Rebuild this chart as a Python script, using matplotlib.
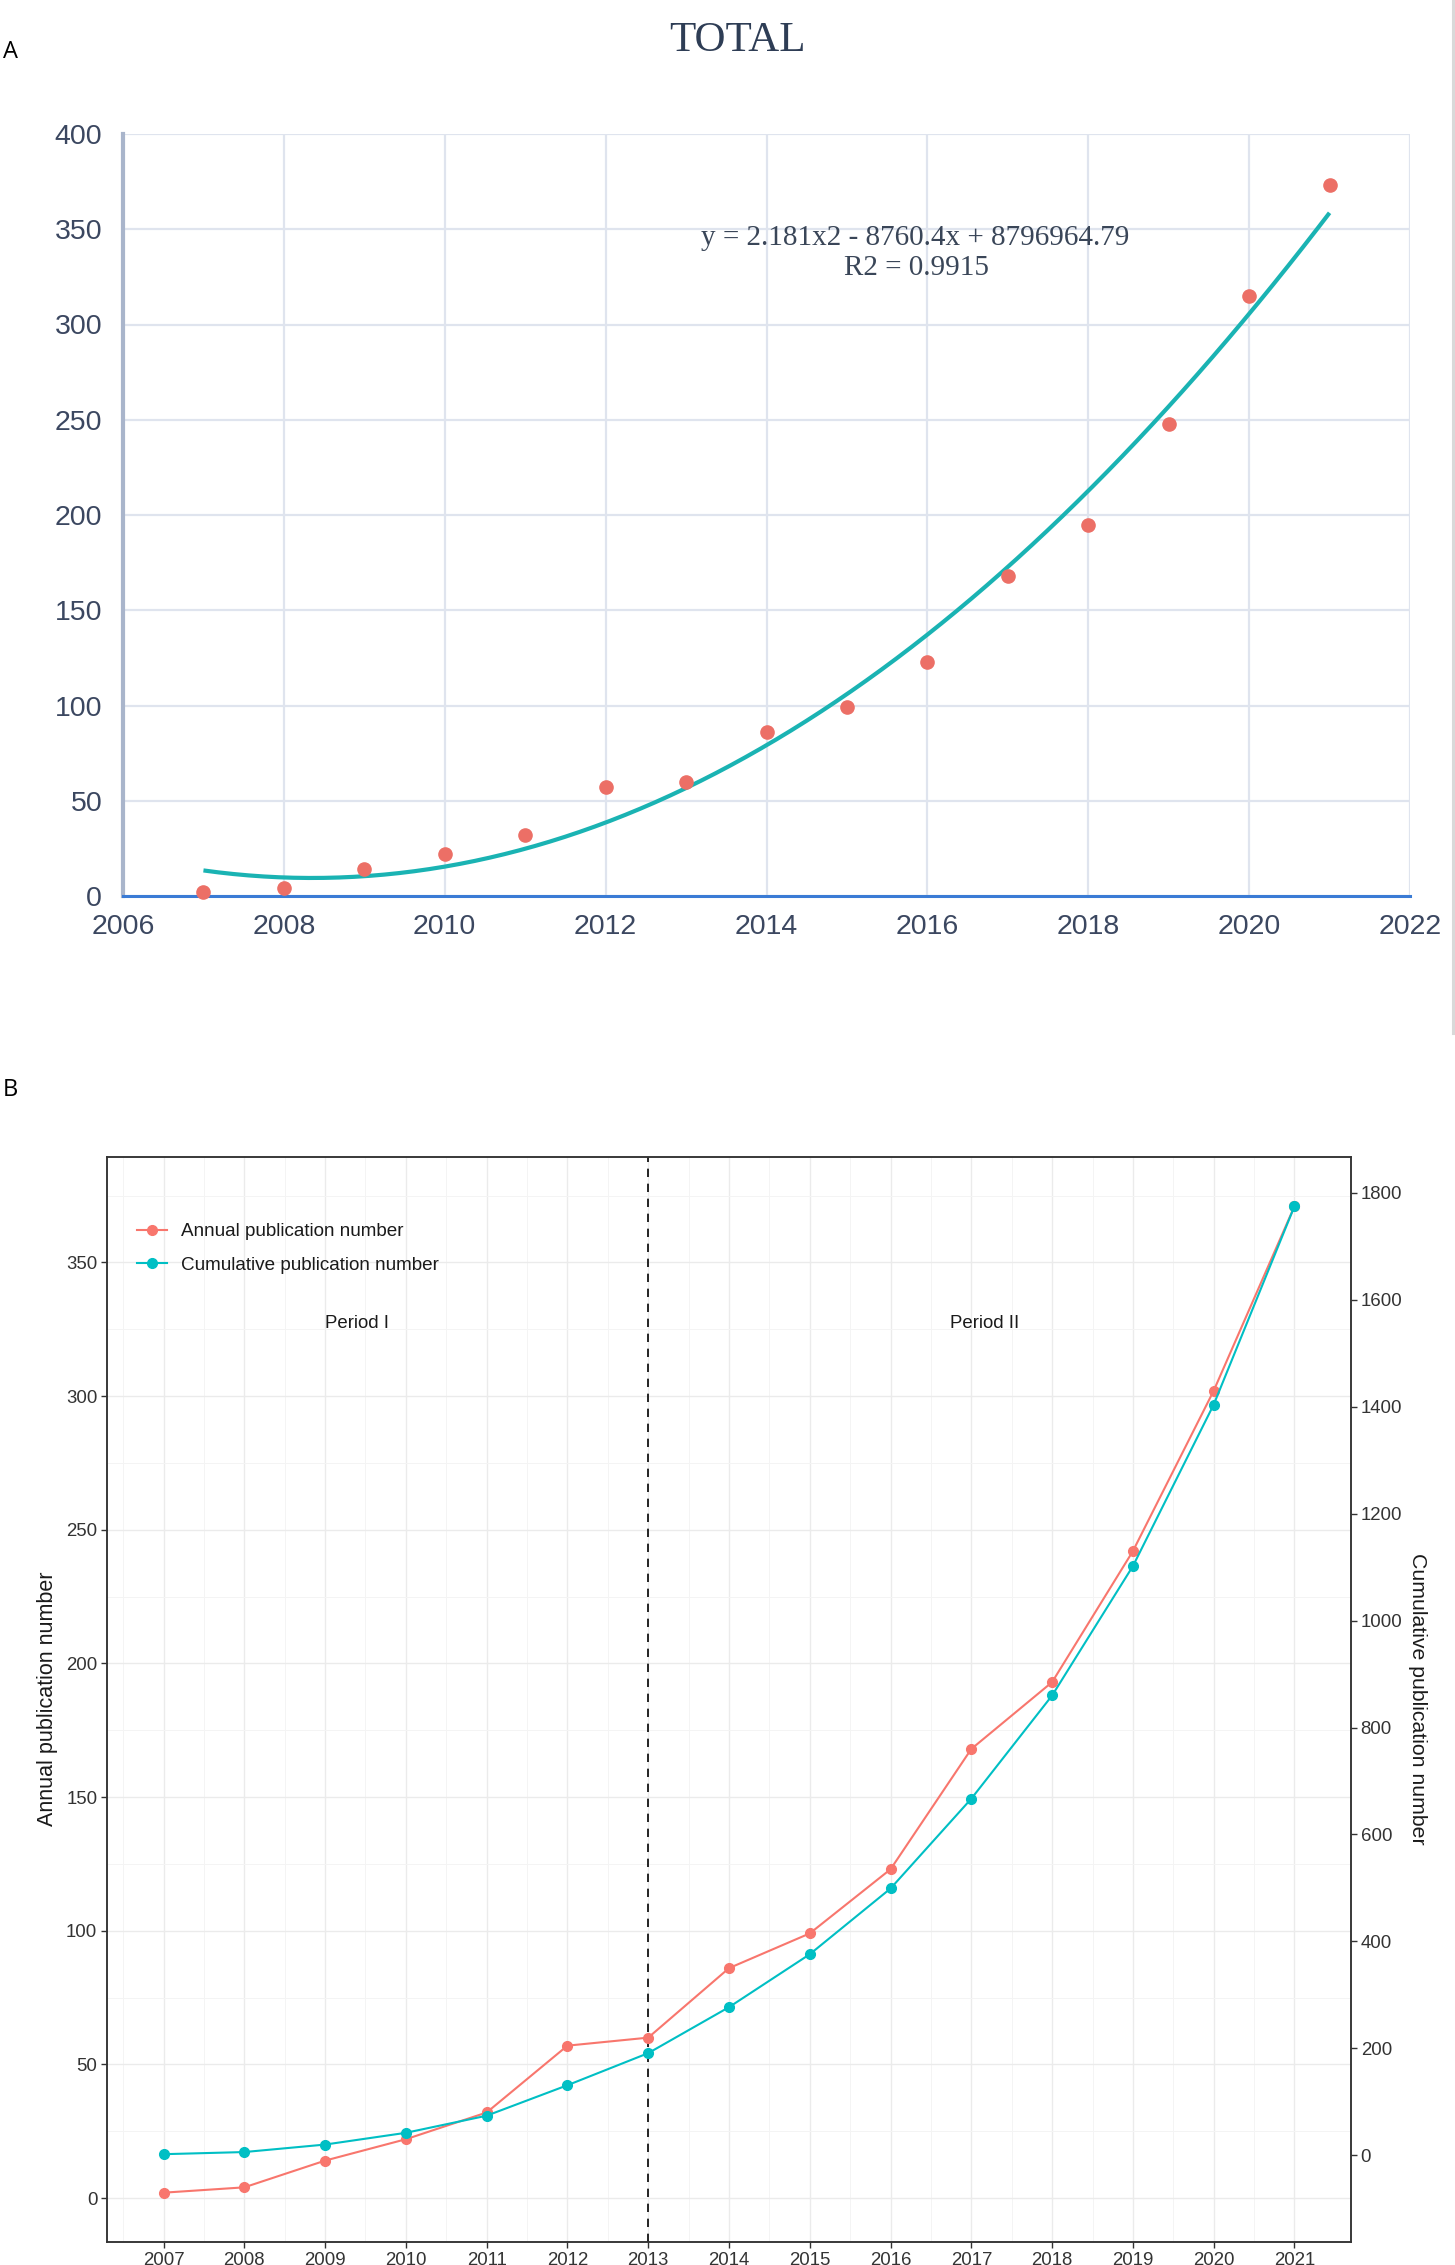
import numpy as np
import matplotlib
matplotlib.use("Agg")
import matplotlib.pyplot as plt
from matplotlib.lines import Line2D

# ---------------- data ----------------
years = [2007, 2008, 2009, 2010, 2011, 2012, 2013, 2014, 2015, 2016, 2017, 2018, 2019, 2020, 2021]
total_a = [2, 4, 14, 22, 32, 57, 60, 86, 99, 123, 168, 195, 248, 315, 373]
annual_b = [2, 4, 14, 22, 32, 57, 60, 86, 99, 123, 168, 193, 242, 302, 371]
cumulative_b = [2, 6, 20, 42, 74, 131, 191, 277, 376, 499, 667, 860, 1102, 1404, 1775]
a_xticks = [2006, 2008, 2010, 2012, 2014, 2016, 2018, 2020, 2022]
a_yticks = [0, 50, 100, 150, 200, 250, 300, 350, 400]
b_left_ticks = [0, 50, 100, 150, 200, 250, 300, 350]
b_right_ticks = [0, 200, 400, 600, 800, 1000, 1200, 1400, 1600, 1800]
equation_text = "y = 2.181x2 - 8760.4x + 8796964.79"
r2_text = "R2 = 0.9915"
period_labels = ["Period I", "Period II"]
period_x = [2009.39, 2017.17]
split_year = 2013
sec_offset, sec_scale = 16, 5   # cumulative = (annual - offset) * scale

W, H = 1455, 2265
fig = plt.figure(figsize=(W / 100, H / 100), dpi=100)
fig.patch.set_facecolor("white")

def fx(px):
    return px / W

def fy(py):
    return 1 - py / H

SANS = ["Liberation Sans", "DejaVu Sans"]
SERIF = ["Liberation Serif", "DejaVu Serif"]

# ---------------- Panel A ----------------
axA = fig.add_axes([fx(123), fy(896), fx(1410) - fx(123), fy(134) - fy(896)])
axA.set_xlim(2006, 2022)
axA.set_ylim(0, 400)
axA.set_xticks(a_xticks)
axA.set_yticks(a_yticks)
axA.grid(True, color="#dfe4ee", lw=1.6)
axA.set_axisbelow(True)
for s in ["top", "right"]:
    axA.spines[s].set_visible(False)
axA.spines["left"].set_color("#a9b5cb")
axA.spines["left"].set_linewidth(3.0)
axA.spines["bottom"].set_color("#3a7bd5")
axA.spines["bottom"].set_linewidth(2.2)
axA.spines["bottom"].set_zorder(3)
axA.tick_params(length=0, labelsize=20.5, labelcolor="#3b4760")
axA.tick_params(axis="y", pad=15)
axA.tick_params(axis="x", pad=13)
for lab in axA.get_xticklabels() + axA.get_yticklabels():
    lab.set_family(SANS)

yrs = np.array(years, dtype=float)
coef = np.polyfit(yrs - 2014, np.array(total_a, dtype=float), 2)
xs = np.linspace(yrs.min(), yrs.max(), 300)
axA.plot(xs, np.polyval(coef, xs - 2014), color="#1ab3b3", lw=3.0, zorder=2,
         solid_capstyle="butt")
axA.plot(years, total_a, "o", color="#ec6f66", ms=9.5, zorder=4, clip_on=False)

axA.text(2015.85, 345.4, equation_text, ha="center", va="center", fontsize=21,
         family=SERIF, color="#3a4658")
axA.text(2015.87, 329.5, r2_text, ha="center", va="center", fontsize=21,
         family=SERIF, color="#3a4658")

fig.text(fx(737), fy(41), "TOTAL", ha="center", va="center", fontsize=31,
         family=SERIF, color="#2e3d55")
fig.text(fx(3), fy(52), "A", ha="left", va="center", fontsize=17,
         family=["Open Sans", "DejaVu Sans"], color="black")
fig.add_artist(Line2D([fx(1453), fx(1453)], [fy(0), fy(1033)], color="#d9d9d9",
                      lw=2.2, transform=fig.transFigure))

# ---------------- Panel B ----------------
RED = "#F8766D"
CYAN = "#00BFC4"
axB = fig.add_axes([fx(107), fy(2242), fx(1351) - fx(107), fy(1157) - fy(2242)])
lo, hi = -16.45, 389.45
axB.set_xlim(2006.3, 2021.7)
axB.set_ylim(lo, hi)
axB.set_xticks(years)
axB.set_yticks(b_left_ticks)
axB.set_xticks([y + 0.5 for y in [2006] + years[:-1]], minor=True)
axB.set_yticks([25, 75, 125, 175, 225, 275, 325, 375], minor=True)
axB.grid(True, which="major", color="#EBEBEB", lw=1.0)
axB.grid(True, which="minor", color="#F4F4F4", lw=0.7)
axB.set_axisbelow(True)
for s in axB.spines.values():
    s.set_color("#333333")
    s.set_linewidth(1.1)
axB.tick_params(which="major", length=4, width=1.0, color="#333333",
                labelsize=13.4, labelcolor="#333333", pad=3)
axB.tick_params(which="minor", length=0)
for lab in axB.get_xticklabels() + axB.get_yticklabels():
    lab.set_family(SANS)

axB.axvline(split_year, color="black", lw=1.2, ls=(0, (5, 4)), zorder=1)

axB2 = axB.twinx()
axB2.set_ylim((lo - sec_offset) * sec_scale, (hi - sec_offset) * sec_scale)
axB2.set_yticks(b_right_ticks)
for s in axB2.spines.values():
    s.set_color("#333333")
    s.set_linewidth(1.1)
axB2.tick_params(length=4, width=1.0, color="#333333", labelsize=13.4,
                 labelcolor="#333333", pad=3)
for lab in axB2.get_yticklabels():
    lab.set_family(SANS)

l1, = axB.plot(years, annual_b, "-o", color=RED, lw=1.5, ms=7, zorder=3,
               label="Annual publication number")
l2, = axB2.plot(years, cumulative_b, "-o", color=CYAN, lw=1.5, ms=7, zorder=3,
                label="Cumulative publication number")

for xp, txt in zip(period_x, period_labels):
    axB.text(xp, 327, txt, ha="center", va="center", fontsize=13.4,
             family=SANS, color="#1a1a1a")

leg = axB2.legend(handles=[l1, l2], loc="upper left",
                  bbox_to_anchor=((137 - 107) / 1244, (2242 - 1223) / 1085),
                  frameon=False, borderpad=0, borderaxespad=0,
                  handlelength=1.6, handletextpad=0.75, labelspacing=0.87,
                  prop={"family": SANS, "size": 13.6})
for t in leg.get_texts():
    t.set_color("#1a1a1a")

fig.text(fx(47), fy(1699), "Annual publication number", rotation=90,
         ha="center", va="center", fontsize=15.5, family=SANS, color="#1a1a1a")
fig.text(fx(1418), fy(1699), "Cumulative publication number", rotation=-90,
         ha="center", va="center", fontsize=15.3, family=SANS, color="#1a1a1a")
fig.text(fx(3), fy(1090), "B", ha="left", va="center", fontsize=17,
         family=["Open Sans", "DejaVu Sans"], color="black")

fig.savefig("out.png", dpi=100)
